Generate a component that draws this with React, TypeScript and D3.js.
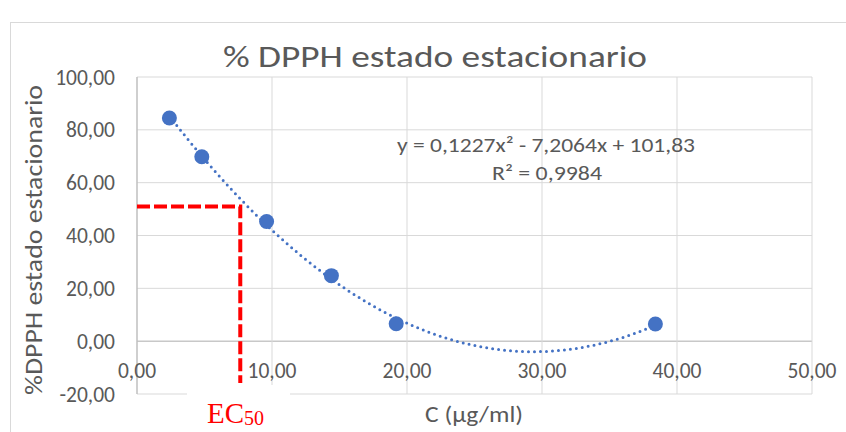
import React from "react";
import * as d3 from "d3";

// concentrations (µg/ml) and % DPPH at steady state
const concentrations = [2.4, 4.8, 9.6, 14.4, 19.2, 38.4];
const dpphValues = [84.5, 69.8, 45.3, 24.8, 6.6, 6.5];

// trendline coefficients as printed on the chart (y = a x² + b x + c)
const trendCoefs = [0.1227, -7.2064, 101.83];
const equationLabel = "y = 0,1227x² - 7,2064x + 101,83";
const r2Label = "R² = 0,9984";

const xTicks = [0, 10, 20, 30, 40, 50];
const yTicks = [-20, 0, 20, 40, 60, 80, 100];

// EC50 guide lines (hand drawn in the original)
const ec50X = 7.65;
const ec50Y = 51;

const W = 846;
const H = 432;
const margin = { left: 137, right: 34, top: 77, bottom: 38 };
const FONT = "Carlito, Calibri, Lato, sans-serif";
const GREY = "#595959";
const BLUE = "#4472C4";

const fmt = (v: number) => v.toFixed(2).replace(".", ",");

export default function App() {
    const x = d3.scaleLinear().domain([0, 50]).range([margin.left, W - margin.right]);
    const y = d3.scaleLinear().domain([-20, 100]).range([H - margin.bottom, margin.top]);

    const trend = d3.range(concentrations[0], concentrations[concentrations.length - 1] + 0.01, 0.2);
    const line = d3.line<number>()
        .x(d => x(d))
        .y(d => y(trendCoefs[0] * d * d + trendCoefs[1] * d + trendCoefs[2]));

    return (
        <svg width={W} height={H} style={{ position: "absolute", left: 0, top: 0, background: "#fff" }}>
            <rect x={10.5} y={22.5} width={900} height={500} fill="#fff" stroke="#d9d9d9" />

            {/* title */}
            <text x={435} y={67} textAnchor="middle" fontFamily={FONT} fontSize={30} fill={GREY}
                textLength={424} lengthAdjust="spacingAndGlyphs">
                % DPPH estado estacionario
            </text>

            {/* grid */}
            {yTicks.map(t => (
                <line key={"gy" + t} x1={x(0)} x2={x(50)} y1={y(t)} y2={y(t)}
                    stroke={t === 0 ? "#c8c8c8" : "#d9d9d9"} strokeWidth={t === 0 ? 1.5 : 1} />
            ))}
            {xTicks.map(t => (
                <line key={"gx" + t} x1={x(t)} x2={x(t)} y1={y(100)} y2={y(-20)}
                    stroke={t === 0 ? "#bfbfbf" : "#d9d9d9"} strokeWidth={t === 0 ? 1.5 : 1} />
            ))}

            {/* y tick labels */}
            {yTicks.map(t => (
                <text key={"ly" + t} x={x(0) - 22} y={y(t) + 7.5} textAnchor="end"
                    fontFamily={FONT} fontSize={21.5} fill={GREY}>{fmt(t)}</text>
            ))}
            {/* x tick labels sit under the zero line */}
            {xTicks.map(t => (
                <text key={"lx" + t} x={x(t)} y={y(0) + 37} textAnchor="middle"
                    fontFamily={FONT} fontSize={21.5} fill={GREY}>{fmt(t)}</text>
            ))}

            {/* trendline */}
            <path d={line(trend) || ""} fill="none" stroke={BLUE} strokeWidth={3}
                strokeLinecap="round" strokeDasharray="0 6" />

            {/* points */}
            {concentrations.map((c, i) => (
                <circle key={"p" + i} cx={x(c)} cy={y(dpphValues[i])} r={7.5} fill={BLUE} />
            ))}

            {/* equation */}
            <text x={546} y={152} textAnchor="middle" fontFamily={FONT} fontSize={21} fill={GREY}
                textLength={298} lengthAdjust="spacingAndGlyphs">{equationLabel}</text>
            <text x={547} y={180} textAnchor="middle" fontFamily={FONT} fontSize={21} fill={GREY}
                textLength={110} lengthAdjust="spacingAndGlyphs">{r2Label}</text>

            {/* EC50 annotation */}
            <path d={`M${x(0)},${y(ec50Y)} H${x(ec50X)} V${y(-20) - 11}`} fill="none"
                stroke="#ff0000" strokeWidth={4} strokeDasharray="13 4" />
            <rect x={187} y={385} width={103} height={60} fill="#fff" />
            <text x={207} y={423} fontFamily="'Liberation Serif', 'Times New Roman', serif" fontSize={29} fill="#ff0000">
                EC<tspan fontSize={20} dy={2}>50</tspan>
            </text>

            {/* axis titles */}
            <text x={474} y={422} textAnchor="middle" fontFamily={FONT} fontSize={22} fill={GREY}
                textLength={98} lengthAdjust="spacingAndGlyphs">C (µg/ml)</text>
            <text transform="translate(42,240) rotate(-90)" textAnchor="middle" fontFamily={FONT} fontSize={24} fill={GREY}
                textLength={310} lengthAdjust="spacingAndGlyphs">
                %DPPH estado estacionario
            </text>
        </svg>
    );
}
